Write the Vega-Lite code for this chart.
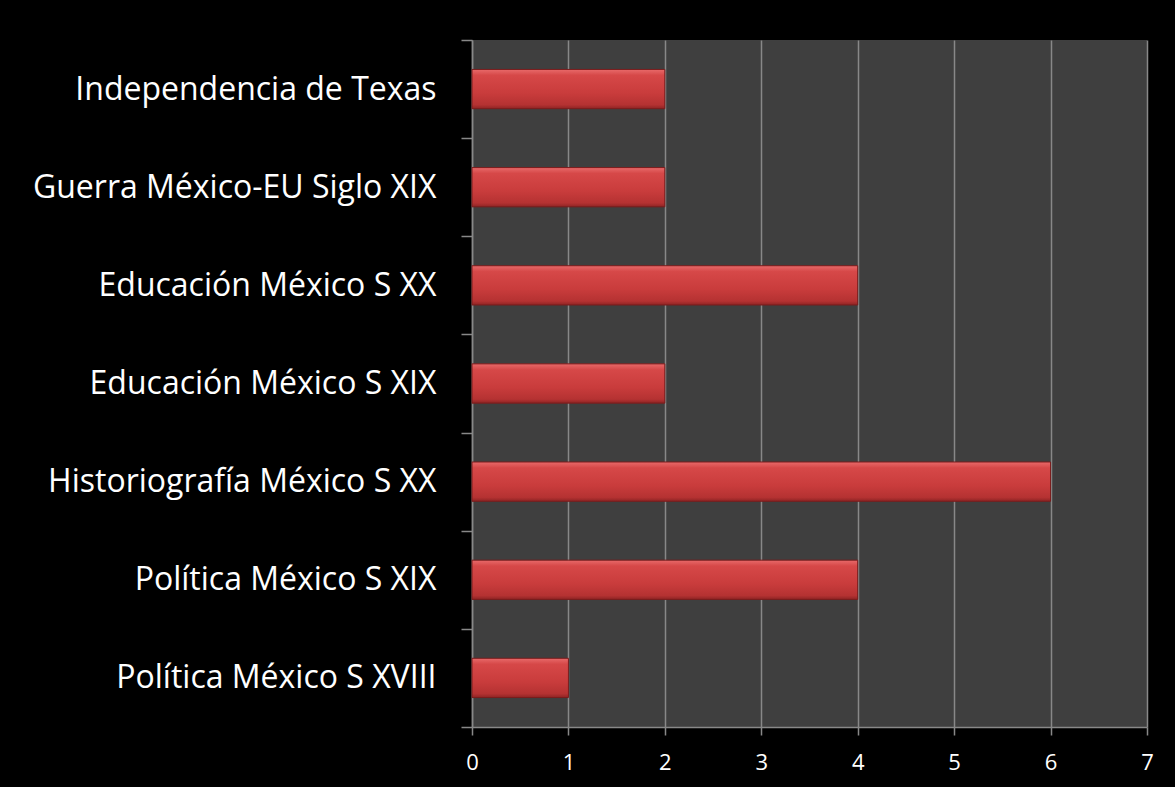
{
  "$schema": "https://vega.github.io/schema/vega-lite/v6.json",
  "width": 675,
  "height": 687,
  "autosize": {"type": "none"},
  "padding": {"left": 472, "top": 40, "right": 28, "bottom": 60},
  "background": "#000000",
  "config": {
    "view": {"fill": "#3f3f3f", "stroke": null},
    "font": "Open Sans"
  },
  "data": {
    "values": [
      {"tema": "Independencia de Texas", "valor": 2},
      {"tema": "Guerra México-EU Siglo XIX", "valor": 2},
      {"tema": "Educación México S XX", "valor": 4},
      {"tema": "Educación México S XIX", "valor": 2},
      {"tema": "Historiografía México S XX", "valor": 6},
      {"tema": "Política México S XIX", "valor": 4},
      {"tema": "Política México S XVIII", "valor": 1}
    ]
  },
  "mark": {
    "type": "bar",
    "height": {"band": 0.4},
    "color": {
      "gradient": "linear", "x1": 0, "y1": 0, "x2": 0, "y2": 1,
      "stops": [
        {"offset": 0, "color": "#e86a6a"},
        {"offset": 0.15, "color": "#d64848"},
        {"offset": 0.6, "color": "#c93c3c"},
        {"offset": 0.9, "color": "#b53232"},
        {"offset": 1, "color": "#8e2424"}
      ]
    },
    "stroke": "#7a1c1c",
    "strokeWidth": 1
  },
  "encoding": {
    "y": {
      "field": "tema", "type": "nominal", "sort": null,
      "scale": {"paddingInner": 0, "paddingOuter": 0},
      "axis": {
        "title": null,
        "domainColor": "#888888", "domainWidth": 1.5,
        "tickColor": "#888888", "tickWidth": 1.5, "tickSize": 11,
        "tickBand": "extent",
        "labelColor": "#ffffff", "labelFontSize": 32, "labelPadding": 25,
        "labelLimit": 500
      }
    },
    "x": {
      "field": "valor", "type": "quantitative",
      "scale": {"domain": [0, 7], "nice": false},
      "axis": {
        "title": null, "values": [0, 1, 2, 3, 4, 5, 6, 7],
        "labelFlush": false, "labelOverlap": false,
        "grid": true, "gridColor": "#888888", "gridWidth": 1.5,
        "domainColor": "#888888", "domainWidth": 1.5,
        "tickColor": "#888888", "tickWidth": 1.5, "tickSize": 8,
        "labelColor": "#ffffff", "labelFontSize": 22, "labelPadding": 17
      }
    }
  }
}
